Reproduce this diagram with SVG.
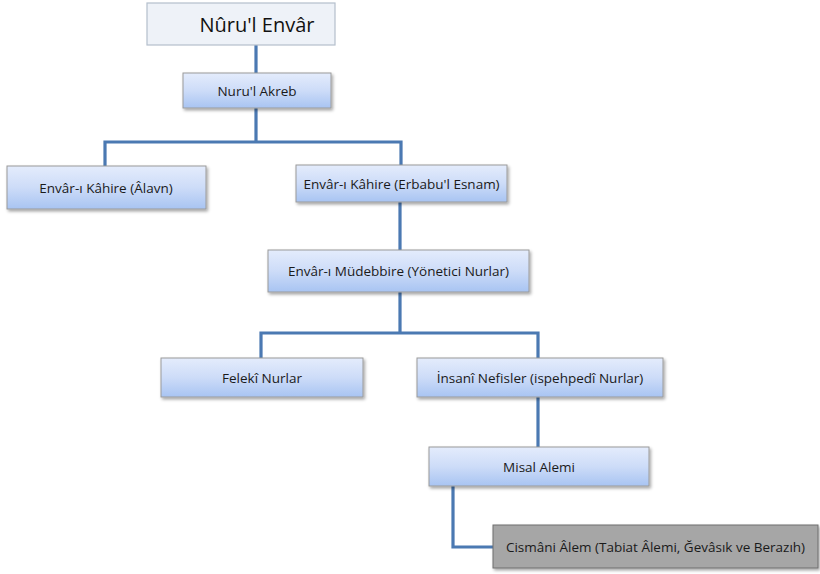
<svg xmlns="http://www.w3.org/2000/svg" width="820" height="574" viewBox="0 0 820 574">
<defs>
<linearGradient id="g" x1="0" y1="0" x2="0" y2="1">
<stop offset="0" stop-color="#e4ecfc"/>
<stop offset="0.5" stop-color="#cddcf8"/>
<stop offset="1" stop-color="#a8c4f2"/>
</linearGradient>
<filter id="sh" x="-10%" y="-20%" width="130%" height="160%">
<feDropShadow dx="1.5" dy="2" stdDeviation="1.5" flood-color="#000" flood-opacity="0.35"/>
</filter>
<style>
.box{fill:url(#g);stroke:#9a9a9a;stroke-width:1;filter:url(#sh)}
.top{fill:#eef2f8;stroke:#b4bfcc;stroke-width:1.2}
.gray{fill:#a6a6a6;stroke:#6e6e6e;stroke-width:1;filter:url(#sh)}
.t{font-family:"Open Sans","Liberation Sans",sans-serif;font-size:13.5px;fill:#1a1a1a;text-anchor:middle;dominant-baseline:central}
.title{font-family:"Open Sans","Liberation Sans",sans-serif;font-size:20px;fill:#111;text-anchor:middle;dominant-baseline:central}
.c{fill:none;stroke:#4b79b2;stroke-width:3.2;stroke-linejoin:miter}
</style>
</defs>
<g id="connectors">
<path class="c" d="M256 45 V73"/>
<path class="c" d="M256 108 V142 M105 166 V142 H401 V165"/>
<path class="c" d="M400 202 V250"/>
<path class="c" d="M400 292 V333 M261 358 V333 H538 V358"/>
<path class="c" d="M538 397 V447"/>
<path class="c" d="M453 486 V547 H493"/>
</g>
<g id="n0">
<rect class="top" x="147" y="3" width="188" height="42"/>
<text class="title" x="257" y="24">Nûru'l Envâr</text>
</g>
<g id="n1">
<rect class="box" x="183" y="73" width="148" height="35"/>
<text class="t" x="257" y="90.5">Nuru'l Akreb</text>
</g>
<g id="n2">
<rect class="box" x="7" y="166" width="199" height="43"/>
<text class="t" x="106" y="187.5">Envâr-ı Kâhire (Âlavn)</text>
</g>
<g id="n3">
<rect class="box" x="296" y="165" width="211" height="37"/>
<text class="t" x="401.5" y="183.5">Envâr-ı Kâhire (Erbabu'l Esnam)</text>
</g>
<g id="n4">
<rect class="box" x="268" y="250" width="261" height="42"/>
<text class="t" x="398.5" y="271">Envâr-ı Müdebbire (Yönetici Nurlar)</text>
</g>
<g id="n5">
<rect class="box" x="161" y="358" width="202" height="39"/>
<text class="t" x="262" y="377.5">Felekî Nurlar</text>
</g>
<g id="n6">
<rect class="box" x="417" y="358" width="246" height="39"/>
<text class="t" x="540" y="377.5">İnsanî Nefisler (ispehpedî Nurlar)</text>
</g>
<g id="n7">
<rect class="box" x="429" y="447" width="220" height="39"/>
<text class="t" x="539" y="466.5">Misal Alemi</text>
</g>
<g id="n8">
<rect class="gray" x="493" y="525" width="325" height="43"/>
<text class="t" x="655.5" y="546.5">Cismâni Âlem (Tabiat Âlemi, Ğevâsık ve Berazıh)</text>
</g>
</svg>
